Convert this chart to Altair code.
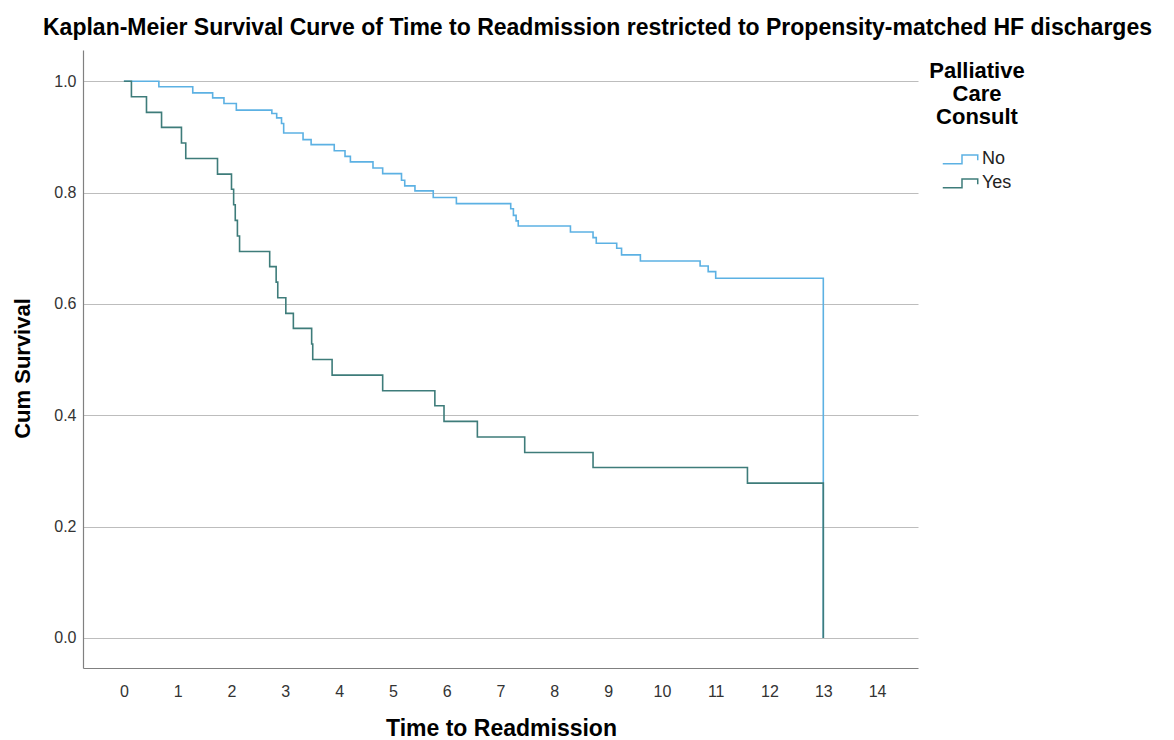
import altair as alt
import pandas as pd

# Kaplan-Meier step points
times_no = [0, 0.65, 1.28, 1.65, 1.86, 2.09, 2.75, 2.84, 2.93, 2.97, 3.33, 3.48, 3.91, 4.11,
            4.21, 4.63, 4.81, 5.16, 5.22, 5.41, 5.75, 6.18, 7.19, 7.24, 7.29, 7.33, 8.30,
            8.72, 8.78, 9.16, 9.25, 9.60, 10.71, 10.86, 11.00, 13.0]
surv_no = [1.0, 0.990, 0.979, 0.970, 0.960, 0.948, 0.942, 0.934, 0.924, 0.907, 0.895, 0.886,
           0.875, 0.865, 0.855, 0.844, 0.834, 0.822, 0.812, 0.803, 0.791, 0.780, 0.771, 0.759,
           0.749, 0.740, 0.729, 0.719, 0.709, 0.700, 0.688, 0.677, 0.668, 0.658, 0.646, 0.0]

times_yes = [0, 0.14, 0.42, 0.70, 1.07, 1.15, 1.74, 2.00, 2.04, 2.07, 2.11, 2.15, 2.71, 2.83,
             2.86, 3.01, 3.15, 3.49, 3.51, 3.87, 4.81, 5.78, 5.95, 6.57, 7.45, 8.72, 11.59, 13.0]
surv_yes = [1.0, 0.972, 0.944, 0.917, 0.889, 0.861, 0.833, 0.806, 0.778, 0.750, 0.722, 0.694,
            0.667, 0.639, 0.611, 0.583, 0.556, 0.528, 0.500, 0.472, 0.444, 0.417, 0.389,
            0.361, 0.333, 0.306, 0.278, 0.0]

groups = ["No", "Yes"]
group_colors = ["#5cb1e3", "#3e7c7a"]
x_ticks = list(range(0, 15))
y_ticks = [0.0, 0.2, 0.4, 0.6, 0.8, 1.0]

rows = []
for i, (t, s) in enumerate(zip(times_no, surv_no)):
    rows.append({"time": t, "surv": s, "group": "No", "order": i})
for i, (t, s) in enumerate(zip(times_yes, surv_yes)):
    rows.append({"time": t, "surv": s, "group": "Yes", "order": i})
df = pd.DataFrame(rows)

FONT = "Liberation Sans"

chart = (
    alt.Chart(df)
    .mark_line(interpolate="step-after", strokeWidth=1.6)
    .encode(
        x=alt.X(
            "time:Q",
            scale=alt.Scale(domain=[-0.76, 14.76], nice=False, zero=False),
            axis=alt.Axis(
                values=x_ticks, format="d", grid=False, ticks=False,
                title="Time to Readmission", titleX=418, titleY=60,
                titleBaseline="middle", titleAlign="center",
                labelPadding=15, labelFlush=False,
            ),
        ),
        y=alt.Y(
            "surv:Q",
            scale=alt.Scale(domain=[-0.054, 1.056], nice=False, zero=False),
            axis=alt.Axis(
                values=y_ticks, format=".1f", grid=True, ticks=False,
                title="Cum Survival", titleX=-61, titleY=318, titleAngle=-90,
                titleBaseline="middle", titleAlign="center",
                labelPadding=7, labelFlush=False,
            ),
        ),
        color=alt.Color(
            "group:N",
            scale=alt.Scale(domain=groups, range=group_colors),
            legend=alt.Legend(
                title=["Palliative", "Care", "Consult"],
                orient="none", legendX=846, legendY=11,
                titleFontSize=22, titleFontWeight="bold", titleColor="#000000",
                titleAlign="center", titleAnchor="middle", titleLineHeight=23,
                titleBaseline="top", titlePadding=20, titleFont=FONT,
                labelFontSize=18, labelFont=FONT, labelColor="#222222", labelOffset=21,
                symbolType="M-1,0.6H1.2V-0.4H3V0.2",
                symbolSize=306, symbolStrokeWidth=1.5, symbolFillColor="transparent",
                rowPadding=5,
            ),
        ),
        order="order:Q",
    )
    .properties(
        width=835,
        height=618,
        autosize=alt.AutoSizeParams(type="none"),
        padding={"left": 83, "top": 50, "right": 256, "bottom": 72},
        title=alt.TitleParams(
            text="Kaplan-Meier Survival Curve of Time to Readmission restricted to Propensity-matched HF discharges",
            fontSize=23, fontWeight="bold", font=FONT, color="#000000",
            anchor="start", frame="group", dx=-40, offset=17, dy=25, baseline="alphabetic",
        ),
    )
    .configure_view(stroke=None)
    .configure_axis(
        labelFont=FONT, labelFontSize=16, labelColor="#333333",
        titleFont=FONT, titleFontSize=22, titleFontWeight="bold", titleColor="#000000",
        domainColor="#808080", domainWidth=1.2,
        gridColor="#bdbdbd", gridWidth=1.2,
    )
    .configure_axisX(titleFontSize=23)
)

chart.save("out.html", embed_options={"renderer": "svg", "actions": False})
